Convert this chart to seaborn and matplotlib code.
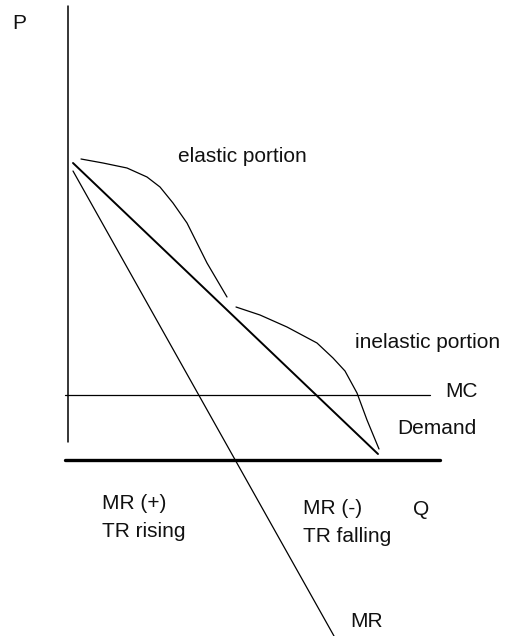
import matplotlib
matplotlib.use("Agg")
import matplotlib.pyplot as plt
import seaborn as sns
import pandas as pd

sns.set_theme(style="white")
plt.rcParams['font.family'] = ['Liberation Sans', 'DejaVu Sans']

# Diagram geometry (pixel-like coordinates, y grows downward)
p_axis_x = [68, 68]
p_axis_y = [6, 442]
q_axis_x = [65, 440]
q_axis_y = [460, 460]
mc_x = [65, 430]
mc_y = [395, 395]
demand_x = [73, 378]
demand_y = [163, 454]
mr_x = [73, 334]
mr_y = [171, 636]
elastic_x = [81, 103, 127, 147, 160, 173, 187, 197, 207, 217, 227]
elastic_y = [159, 163, 168, 177, 187, 203, 223, 243, 263, 280, 297]
inelastic_x = [236, 260, 287, 317, 333, 345, 357, 367, 379]
inelastic_y = [307, 315, 327, 343, 358, 371, 393, 420, 449]

labels = ["P", "elastic portion", "inelastic portion", "MC", "Demand",
          "MR (+)", "TR rising", "MR (-)", "TR falling", "Q", "MR"]
label_x = [12, 178, 355, 445, 397, 102, 102, 303, 303, 413, 350]
label_y = [29, 162, 348, 397, 434, 509, 537, 514, 542, 515, 627]

fig = plt.figure(figsize=(5.07, 6.36), dpi=100)
ax = fig.add_axes([0, 0, 1, 1])

def seg(x, y, lw):
    df = pd.DataFrame({"x": x, "y": y})
    sns.lineplot(data=df, x="x", y="y", sort=False, color="black", lw=lw,
                 ax=ax, estimator=None)

seg(p_axis_x, p_axis_y, 1.1)
seg(q_axis_x, q_axis_y, 2.4)
seg(mc_x, mc_y, 0.9)
seg(demand_x, demand_y, 1.4)
seg(mr_x, mr_y, 0.9)
seg(elastic_x, elastic_y, 0.9)
seg(inelastic_x, inelastic_y, 0.9)

for t, x, y in zip(labels, label_x, label_y):
    ax.text(x, y, t, fontsize=15, color="#111111", ha="left", va="baseline")

ax.set_xlim(0, 507)
ax.set_ylim(636, 0)
ax.set_axis_off()
fig.savefig("out.png", dpi=100)
